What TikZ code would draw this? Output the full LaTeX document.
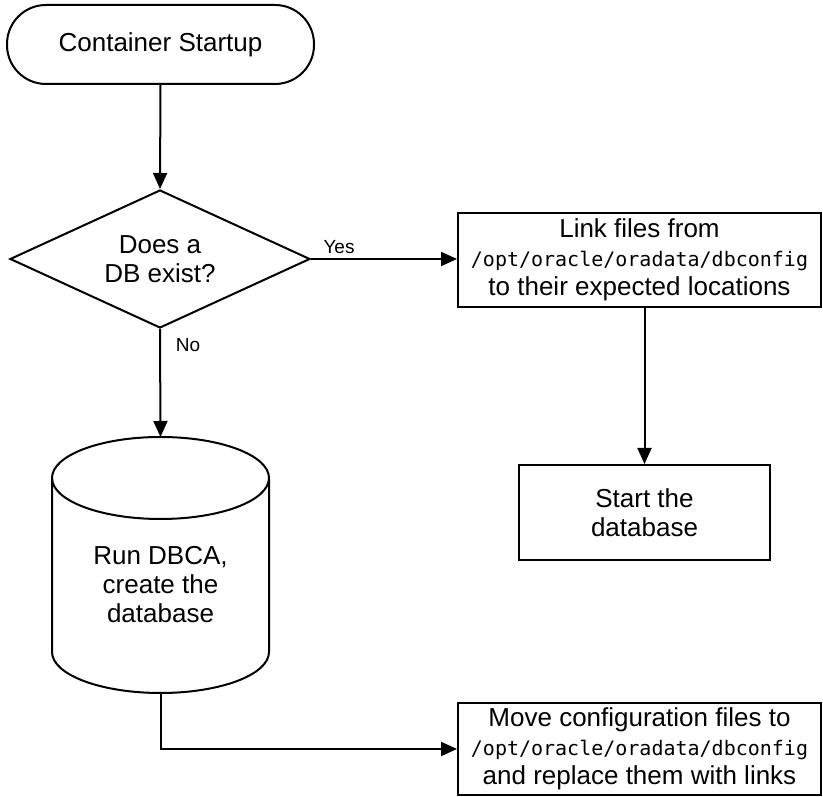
\documentclass[tikz,border=0pt]{standalone}
\usepackage{fontspec}
\setmainfont{Liberation Sans}
\setmonofont{DejaVu Sans Mono}
\usetikzlibrary{arrows.meta,shapes.geometric}
\newcommand{\dirname}[1]{{\fontsize{20}{20}\selectfont\ttfamily #1}}

\begin{document}
\begin{tikzpicture}[x=1pt,y=1pt,
  line width=2pt,
  flow/.style={-{Triangle[length=16pt,width=14pt]}},
  txt/.style={font=\fontsize{26}{29}\selectfont, align=center, inner sep=0pt},
  boxnode/.style={txt, draw, rectangle},
  lbl/.style={font=\fontsize{19}{22}\selectfont, inner sep=0pt}
]
\useasboundingbox (0,0) rectangle (823,797);

% terminal
\node[txt, draw, rounded corners=39pt, minimum width=307pt, minimum height=79pt]
  (start) at (160.5,752.5) {Container Startup};

% decision
\node[txt, draw, shape=diamond, aspect=2.17, minimum width=300pt, minimum height=138pt]
  (q) at (160,538) {Does a\\DB exist?};

% existing database branch
\node[boxnode, minimum width=363pt, minimum height=94pt] (link) at (639.5,537)
  {Link files from\\\dirname{/opt/oracle/oradata/dbconfig}\\to their expected locations};
\node[boxnode, minimum width=251pt, minimum height=95pt] (run) at (644.5,284.5)
  {Start the\\database};

% new database branch: cylinder drawn by hand around its label
\node[txt] (dbca) at (160.5,212) {Run DBCA,\\create the\\database};
\coordinate (dbtop) at (160.5,360);
\coordinate (dbbot) at (160.5,104);
\draw (52,319) -- (52,145) arc[start angle=180, end angle=360, x radius=108.5, y radius=41] -- (269,319);
\draw (160.5,319) ellipse[x radius=108.5, y radius=41];

\node[boxnode, minimum width=363pt, minimum height=92pt] (move) at (639.5,48)
  {Move configuration files to\\\dirname{/opt/oracle/oradata/dbconfig}\\and replace them with links};

% connectors
\draw[flow] (start.south) -- (q.north);
\draw[flow] (q.east) -- (q.east -| link.west);
\draw[flow] (link.south -| run.north) -- (run.north);
\draw[flow] (q.south) -- (dbtop);
\draw[flow] (dbbot) |- (move.west);

% branch labels
\node[lbl] (yes) at (339,550) {Yes};
\node[lbl] (no) at (188,452) {No};
\end{tikzpicture}
\end{document}
